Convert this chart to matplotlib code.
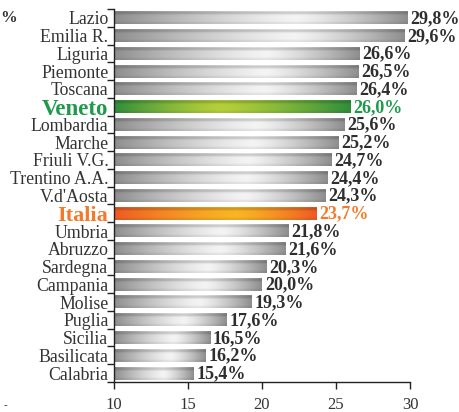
import numpy as np
import matplotlib
matplotlib.use("Agg")
import matplotlib.pyplot as plt
from matplotlib.colors import to_rgb

regions = ["Lazio", "Emilia R.", "Liguria", "Piemonte", "Toscana", "Veneto",
           "Lombardia", "Marche", "Friuli V.G.", "Trentino A.A.", "V.d'Aosta",
           "Italia", "Umbria", "Abruzzo", "Sardegna", "Campania", "Molise",
           "Puglia", "Sicilia", "Basilicata", "Calabria"]
values = [29.8, 29.6, 26.6, 26.5, 26.4, 26.0, 25.6, 25.2, 24.7, 24.4, 24.3,
          23.7, 21.8, 21.6, 20.3, 20.0, 19.3, 17.6, 16.5, 16.2, 15.4]
value_labels = ["29,8%", "29,6%", "26,6%", "26,5%", "26,4%", "26,0%", "25,6%",
                "25,2%", "24,7%", "24,4%", "24,3%", "23,7%", "21,8%", "21,6%",
                "20,3%", "20,0%", "19,3%", "17,6%", "16,5%", "16,2%", "15,4%"]
xticks = [10, 15, 20, 25, 30]

plt.rcParams['font.family'] = ['Liberation Serif', 'DejaVu Serif']

fig = plt.figure(figsize=(4.6, 4.12), dpi=100)
ax = fig.add_axes([114/460, 1-382/412, (410-114)/460, (382-9)/412])

XMIN, XMAX = 10, 30
n = len(regions)


def grad_img(edge, mid, peak=0.62, w=200, h=20):
    edge = np.array(to_rgb(edge)); mid = np.array(to_rgb(mid))
    t = np.linspace(0, 1, w)
    d = np.where(t < peak, (peak - t) / peak, (t - peak) / (1 - peak))
    d = d ** 1.3
    row = mid[None, :] * (1 - d[:, None]) + edge[None, :] * d[:, None]
    v = np.linspace(0, 1, h)
    vf = 1 - 0.18 * np.exp(-((v - 0.12) / 0.12) ** 2) - 0.08 * np.exp(-((v - 0.95) / 0.1) ** 2)
    img = row[None, :, :] * vf[:, None, None]
    return np.clip(img, 0, 1)

gray_img = grad_img("#8e8e8e", "#f4f4f4", peak=0.62)
green_img = grad_img("#2f8e3c", "#b5cf3a", peak=0.45)
orange_img = grad_img("#ef5a24", "#f9b524", peak=0.6)

bh = 0.72
for i, (r, v, lab) in enumerate(zip(regions, values, value_labels)):
    if r == "Veneto":
        img, col = green_img, "#1f9a4c"
    elif r == "Italia":
        img, col = orange_img, "#f47a2a"
    else:
        img, col = gray_img, "#2e2e2e"
    ax.imshow(img, extent=[XMIN, v, i + bh/2, i - bh/2], aspect='auto',
              interpolation='bilinear', zorder=2)
    ax.annotate(lab, (v, i), xytext=(2, -0.5), textcoords='offset points',
                ha='left', va='center', fontsize=13, fontweight='bold',
                color=col, zorder=3)

ax.set_xlim(XMIN, XMAX)
ax.set_ylim(n - 0.5, -0.5)

ax.set_yticks(range(n))
ax.set_yticklabels(regions)
for t, r in zip(ax.get_yticklabels(), regions):
    if r == "Veneto":
        t.set_color("#1f9a4c"); t.set_fontweight('bold'); t.set_fontsize(16.5)
    elif r == "Italia":
        t.set_color("#f47a2a"); t.set_fontweight('bold'); t.set_fontsize(16)
    else:
        t.set_color("#333333"); t.set_fontsize(12.8)
ax.tick_params(axis='y', which='major', length=0, pad=4)
ax.set_yticks(np.arange(-0.5, n, 1), minor=True)
ax.tick_params(axis='y', which='minor', length=5, width=1, color='#222222')

ax.set_xticks(xticks)
ax.set_xticklabels([str(x) for x in xticks])
ax.tick_params(axis='x', length=5, width=1, color='#222222', labelsize=12,
               labelcolor='#333333', pad=5.5)

for s in ['top', 'right']:
    ax.spines[s].set_visible(False)
for s in ['left', 'bottom']:
    ax.spines[s].set_color('#222222')
    ax.spines[s].set_linewidth(1)

fig.text(0.0, 1 - 18/412, "%", fontsize=12, fontweight='bold', color='#333333',
         ha='left', va='center')
fig.text(4/460, 1 - 406/412, "-", fontsize=8, color='#333333', ha='left', va='center')

fig.savefig("out.png", dpi=100)
